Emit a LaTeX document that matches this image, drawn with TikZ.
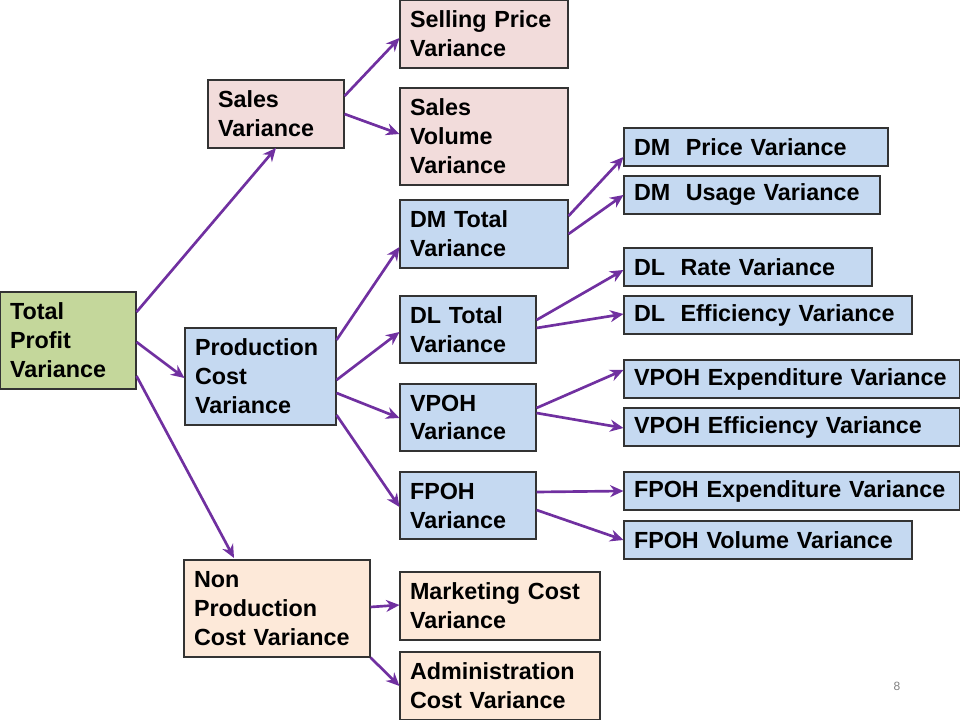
\documentclass[tikz,border=0pt]{standalone}
\usepackage{fontspec}
\setmainfont{Liberation Sans}
\usetikzlibrary{arrows.meta}
\definecolor{gr}{HTML}{C4D79B}
\definecolor{pk}{HTML}{F2DCDB}
\definecolor{bl}{HTML}{C5D9F1}
\definecolor{pc}{HTML}{FDE9D9}
\definecolor{pu}{HTML}{7030A0}
\begin{document}
\begin{tikzpicture}[x=0.75pt,y=-0.75pt,
  bx/.style={draw=black!80,line width=0.8pt,inner sep=0pt,align=left,font=\fontsize{17.5}{21.7}\selectfont\bfseries},
  ar/.style={draw=pu,line width=2pt,-{Stealth[length=10pt,width=9pt]}}]
\useasboundingbox (0,0) rectangle (960,720);
\newcommand\bx[7]{\node[bx,fill=#6,minimum width={(#4-#2)*0.75pt},minimum height={(#5-#3)*0.75pt},text width={(#4-#2-20)*0.75pt}] (#1) at ({(#2+#4)/2},{(#3+#5)/2}) {#7};}
\bx{tp}{0}{292}{136}{389}{gr}{Total\\Profit\\Variance}
\bx{sv}{208}{80}{344}{148}{pk}{Sales\\Variance}
\bx{pcv}{185}{328}{336}{425}{bl}{Production\\Cost\\Variance}
\bx{np}{184}{560}{370}{657}{pc}{Non\\Production\\Cost Variance}
\bx{sp}{400}{0}{568}{68}{pk}{Selling Price\\Variance}
\bx{svv}{400}{88}{568}{185}{pk}{Sales\\Volume\\Variance}
\bx{dm}{400}{200}{568}{268}{bl}{DM Total\\Variance}
\bx{dl}{400}{296}{536}{363}{bl}{DL Total\\Variance}
\bx{vp}{400}{384}{536}{451}{bl}{VPOH\\Variance}
\bx{fp}{400}{472}{536}{539}{bl}{FPOH\\Variance}
\bx{mk}{400}{572}{600}{640}{pc}{Marketing Cost\\Variance}
\bx{ad}{400}{652}{600}{720}{pc}{Administration\\Cost Variance}
\bx{dmp}{624}{128}{888}{166}{bl}{DM\ \ Price Variance}
\bx{dmu}{624}{176}{880}{214}{bl}{DM\ \ Usage Variance}
\bx{dlr}{624}{248}{872}{286}{bl}{DL\ \ Rate Variance}
\bx{dle}{624}{296}{912}{334}{bl}{DL\ \ Efficiency Variance}
\bx{vpe}{624}{360}{960}{398}{bl}{VPOH Expenditure Variance}
\bx{vpf}{624}{408}{960}{446}{bl}{VPOH Efficiency Variance}
\bx{fpe}{624}{472}{960}{510}{bl}{FPOH Expenditure Variance}
\bx{fpv}{624}{521}{912}{559}{bl}{FPOH Volume Variance}
\node[text=black!50,font=\fontsize{9}{10}\selectfont] (pg) at (897,686) {8};
\draw[ar] (tp.east |- 0,312) -- (276,148);
\draw[ar] (tp.east |- 0,342) -- (pcv.west |- 0,378);
\draw[ar] (tp.east |- 0,376) -- (234,558);
\draw[ar] (sv.east |- 0,96) -- (sp.west |- 0,38);
\draw[ar] (sv.east |- 0,114) -- (svv.west |- 0,134);
\draw[ar] (pcv.east |- 0,340) -- (dm.west |- 0,247);
\draw[ar] (pcv.east |- 0,380) -- (dl.west |- 0,332);
\draw[ar] (pcv.east |- 0,393) -- (vp.west |- 0,418);
\draw[ar] (pcv.east |- 0,415) -- (fp.west |- 0,507);
\draw[ar] (np.east |- 0,607) -- (mk.west |- 0,605);
\draw[ar] (np.south east) -- (ad.west |- 0,686);
\draw[ar] (dm.east |- 0,216) -- (dmp.west |- 0,157);
\draw[ar] (dm.east |- 0,234) -- (dmu.west |- 0,195);
\draw[ar] (dl.east |- 0,320) -- (dlr.west |- 0,270);
\draw[ar] (dl.east |- 0,328) -- (dle.west |- 0,314);
\draw[ar] (vp.east |- 0,408) -- (vpe.west |- 0,370);
\draw[ar] (vp.east |- 0,413) -- (vpf.west |- 0,428);
\draw[ar] (fp.east |- 0,492) -- (fpe.west |- 0,491);
\draw[ar] (fp.east |- 0,510) -- (fpv.west |- 0,540);
\end{tikzpicture}
\end{document}
